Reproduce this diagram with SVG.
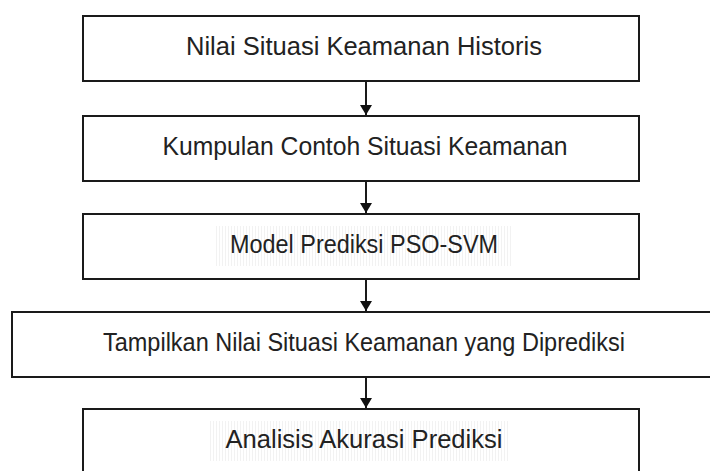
<svg xmlns="http://www.w3.org/2000/svg" width="710" height="471" viewBox="0 0 710 471">
<defs>
<style>
.box{fill:#ffffff;stroke:#1a1a1a;stroke-width:2}
.lbl{font-family:"Liberation Sans",Arial,sans-serif;font-size:25px;fill:#222222;text-anchor:middle}
.conn{stroke:#1a1a1a;stroke-width:2;fill:none}
</style>
<marker id="ah" viewBox="0 0 10 12" refX="10" refY="6" markerWidth="10" markerHeight="12" markerUnits="userSpaceOnUse" orient="auto">
<path d="M0,0 L10,6 L0,12 Z" fill="#111111"/>
</marker>
<pattern id="stripe" width="3" height="10" patternUnits="userSpaceOnUse">
<rect width="3" height="10" fill="#ffffff"/>
<rect width="1" height="10" fill="#f2f2f2"/>
</pattern>
</defs>
<rect width="710" height="471" fill="#ffffff"/>
<g id="node1">
<rect class="box" x="83" y="16" width="556" height="65"/>
<text class="lbl" x="364" y="55" textLength="356" lengthAdjust="spacingAndGlyphs">Nilai Situasi Keamanan Historis</text>
</g>
<g id="node2">
<rect class="box" x="83" y="116" width="556" height="65"/>
<text class="lbl" x="365" y="155" textLength="405" lengthAdjust="spacingAndGlyphs">Kumpulan Contoh Situasi Keamanan</text>
</g>
<g id="node3">
<rect class="box" x="83" y="214" width="556" height="65"/>
<rect x="216" y="226" width="296" height="40" fill="url(#stripe)"/>
<text class="lbl" x="364" y="253" textLength="268" lengthAdjust="spacingAndGlyphs">Model Prediksi PSO-SVM</text>
</g>
<g id="node4">
<rect class="box" x="12" y="312" width="710" height="65"/>
<text class="lbl" x="364" y="351" textLength="522" lengthAdjust="spacingAndGlyphs">Tampilkan Nilai Situasi Keamanan yang Diprediksi</text>
</g>
<g id="node5">
<rect class="box" x="83" y="409" width="556" height="80"/>
<rect x="210" y="421" width="300" height="40" fill="url(#stripe)"/>
<text class="lbl" x="364" y="448" textLength="277" lengthAdjust="spacingAndGlyphs">Analisis Akurasi Prediksi</text>
</g>
<g id="connectors">
<line class="conn" x1="366" y1="82" x2="366" y2="115" marker-end="url(#ah)"/>
<line class="conn" x1="366" y1="182" x2="366" y2="213" marker-end="url(#ah)"/>
<line class="conn" x1="366" y1="280" x2="366" y2="311" marker-end="url(#ah)"/>
<line class="conn" x1="366" y1="378" x2="366" y2="408" marker-end="url(#ah)"/>
</g>
</svg>
